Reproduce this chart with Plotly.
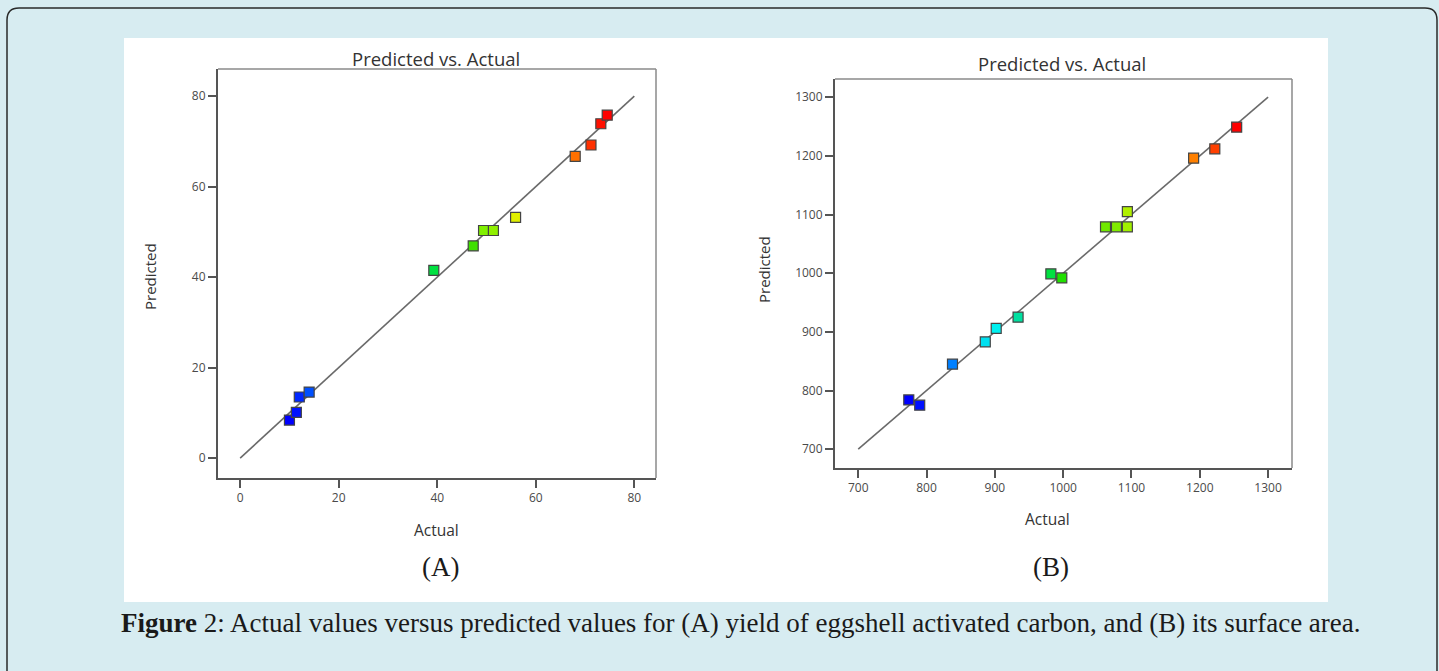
import plotly.graph_objects as go

W, H = 1439, 671

# ---------------- data ----------------
a_actual = [10.0, 11.4, 12.0, 14.0, 39.3, 47.3, 49.4, 51.4, 55.9, 68.0, 71.2, 73.2, 74.5]
a_pred = [8.4, 10.1, 13.5, 14.6, 41.5, 46.9, 50.3, 50.3, 53.2, 66.7, 69.2, 73.9, 75.8]
a_colors = ["#0000ff", "#0010ff", "#0028ff", "#0050ff", "#00e040", "#40e000", "#80f000",
            "#90f000", "#e0f000", "#ff7000", "#ff3000", "#ff1000", "#ff0000"]
a_line = [0, 80]
a_ticks = [0, 20, 40, 60, 80]

b_actual = [774, 790, 838, 886, 902, 934, 982, 998, 1062, 1078, 1094, 1094, 1191, 1222, 1254]
b_pred = [784, 775, 845, 883, 906, 925, 999, 992, 1079, 1079, 1079, 1105, 1196, 1212, 1249]
b_colors = ["#0000ff", "#0010ff", "#0080ff", "#00e0f0", "#00f0f0", "#00e0a0", "#00e040",
            "#20e000", "#70e800", "#80ec00", "#a0f000", "#b0f000", "#ff8000", "#ff4000", "#ff0000"]
b_line = [700, 1300]
b_ticks = [700, 800, 900, 1000, 1100, 1200, 1300]

title_text = "Predicted vs. Actual"
caption = "<b>Figure</b> 2: Actual values versus predicted values for (A) yield of eggshell activated carbon, and (B) its surface area."


def px(x):
    return x / W


def py(y):
    return 1 - y / H


fig = go.Figure()

# panel A
fig.add_trace(go.Scatter(x=a_line, y=a_line, mode="lines", line=dict(color="#6a6a6a", width=1.6),
                         xaxis="x", yaxis="y", hoverinfo="skip", showlegend=False))
fig.add_trace(go.Scatter(x=a_actual, y=a_pred, mode="markers",
                         marker=dict(symbol="square", size=10, color=a_colors,
                                     line=dict(color="#444444", width=1.2)),
                         xaxis="x", yaxis="y", showlegend=False))
# panel B
fig.add_trace(go.Scatter(x=b_line, y=b_line, mode="lines", line=dict(color="#6a6a6a", width=1.6),
                         xaxis="x2", yaxis="y2", hoverinfo="skip", showlegend=False))
fig.add_trace(go.Scatter(x=b_actual, y=b_pred, mode="markers",
                         marker=dict(symbol="square", size=10, color=b_colors,
                                     line=dict(color="#444444", width=1.2)),
                         xaxis="x2", yaxis="y2", showlegend=False))

tickfont = dict(family="Open Sans, sans-serif", size=12, color="#4a4a4a")
axcommon = dict(showgrid=False, zeroline=False, showline=True, linecolor="#555555", linewidth=2,
                ticks="outside", ticklen=8, tickwidth=1.5, tickcolor="#555555", tickfont=tickfont,
                mirror=False)

fig.update_layout(
    xaxis=dict(domain=[px(218), px(656)], range=[-4.5, 84.4], tickvals=a_ticks, anchor="y", **axcommon),
    yaxis=dict(domain=[py(478), py(69)], range=[-4.4, 86], tickvals=a_ticks, anchor="x", **axcommon),
    xaxis2=dict(domain=[px(835), px(1292)], range=[666, 1335], tickvals=b_ticks, anchor="y2", **axcommon),
    yaxis2=dict(domain=[py(468), py(79)], range=[668, 1331], tickvals=b_ticks, anchor="x2", **axcommon),
)

shapes = []
# outer rounded frame
path = (f"M {px(7)},{py(700)} L {px(7)},{py(20)} Q {px(7)},{py(8)} {px(19)},{py(8)} "
        f"L {px(1425)},{py(8)} Q {px(1437)},{py(8)} {px(1437)},{py(20)} L {px(1437)},{py(700)}")
shapes.append(dict(type="path", path=path, xref="paper", yref="paper",
                   line=dict(color="#2a2a2a", width=1.5), layer="below"))
# white figure box
shapes.append(dict(type="rect", xref="paper", yref="paper", x0=px(124), x1=px(1328), y0=py(602), y1=py(38),
                   fillcolor="white", line=dict(width=0), layer="below"))
# top/right frame lines (lighter)
for xr, yr in [("x", "y"), ("x2", "y2")]:
    shapes.append(dict(type="line", xref=f"{xr} domain", yref=f"{yr} domain", x0=0, x1=1, y0=1, y1=1,
                       line=dict(color="#8a8a8a", width=1.5)))
    shapes.append(dict(type="line", xref=f"{xr} domain", yref=f"{yr} domain", x0=1, x1=1, y0=0, y1=1,
                       line=dict(color="#8a8a8a", width=1.5)))

sans = "Open Sans, sans-serif"


def label(text, x, y, family, size, color="#333333", angle=0):
    return dict(text=text, x=px(x), y=py(y), xref="paper", yref="paper", showarrow=False,
                xanchor="center", yanchor="middle", textangle=angle,
                font=dict(family=family, size=size, color=color))


ann = [
    label(title_text, 436, 58, sans, 18.5),
    label(title_text, 1062, 64, sans, 18.5),
    label("Actual", 436, 530, sans, 15.5),
    label("Actual", 1047, 519, sans, 15.5),
    label("Predicted", 150, 277, sans, 15, angle=-90),
    label("Predicted", 764, 270, sans, 15, angle=-90),
    label("(A)", 441, 567, "Liberation Serif, serif", 27, "#1a1a1a"),
    label("(B)", 1051, 567, "Liberation Serif, serif", 27, "#1a1a1a"),
    label(caption, 741, 623, "Liberation Serif, serif", 27, "#1a1a1a"),
]

fig.update_layout(
    width=W, height=H, margin=dict(l=0, r=0, t=0, b=0),
    paper_bgcolor="#d7ecf1", plot_bgcolor="white",
    shapes=shapes, annotations=ann, showlegend=False,
)

fig.write_html("out.html")
